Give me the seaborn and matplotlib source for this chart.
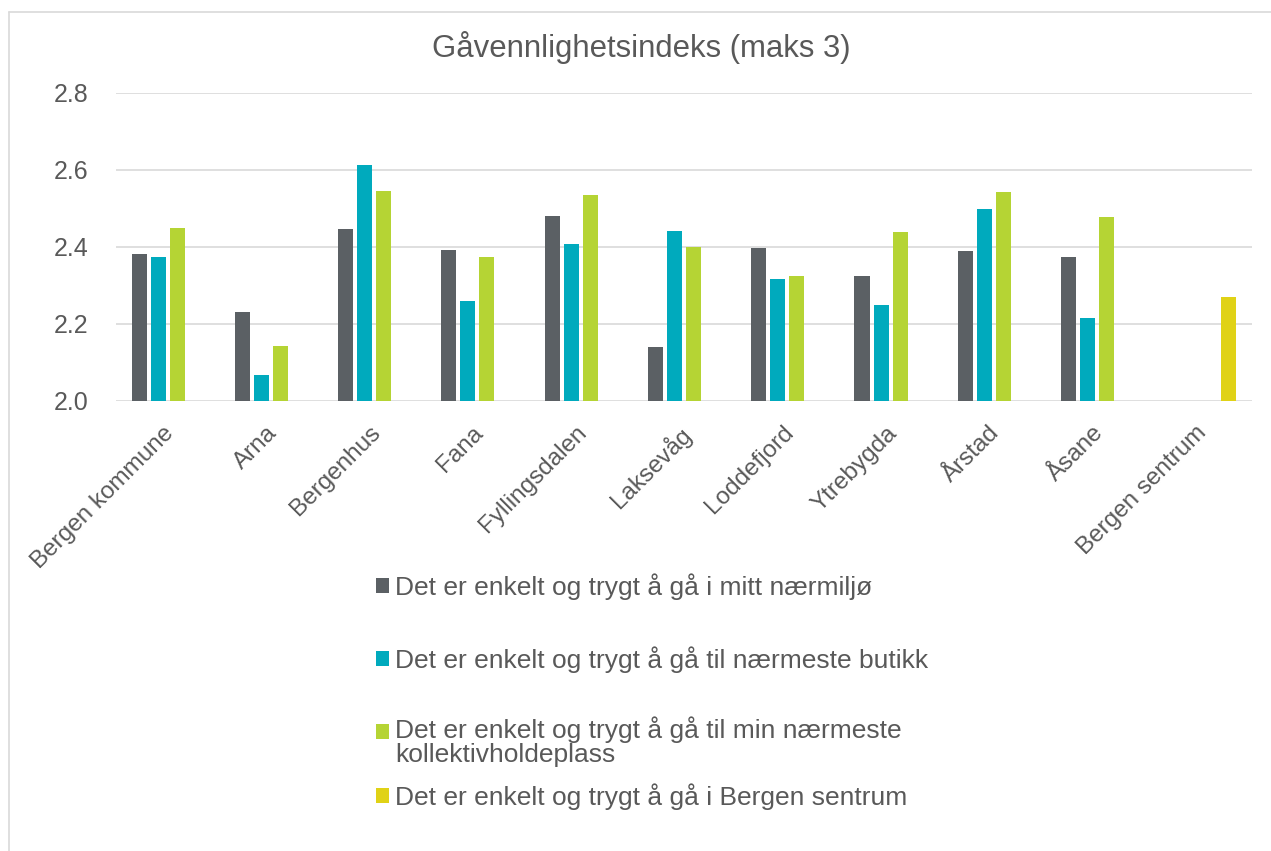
import numpy as np
import pandas as pd
import matplotlib
matplotlib.use("Agg")
import matplotlib.pyplot as plt
import matplotlib.transforms as mtransforms
import seaborn as sns
from matplotlib.lines import Line2D
from matplotlib.legend_handler import HandlerPatch

# ---------------- data ----------------
categories = ["Bergen kommune", "Arna", "Bergenhus", "Fana", "Fyllingsdalen",
              "Laksevåg", "Loddefjord", "Ytrebygda", "Årstad", "Åsane", "Bergen sentrum"]
series_names = [
    "Det er enkelt og trygt å gå i mitt nærmiljø",
    "Det er enkelt og trygt å gå til nærmeste butikk",
    "Det er enkelt og trygt å gå til min nærmeste\nkollektivholdeplass",
    "Det er enkelt og trygt å gå i Bergen sentrum",
]
naermiljo = [2.381, 2.232, 2.446, 2.391, 2.481, 2.140, 2.396, 2.325, 2.390, 2.374, None]
butikk = [2.374, 2.068, 2.613, 2.259, 2.407, 2.442, 2.317, 2.250, 2.499, 2.216, None]
kollektiv = [2.448, 2.144, 2.544, 2.373, 2.534, 2.400, 2.324, 2.439, 2.542, 2.478, None]
sentrum = [None, None, None, None, None, None, None, None, None, None, 2.269]
y_ticks = [2.0, 2.2, 2.4, 2.6, 2.8]
title = "Gåvennlighetsindeks (maks 3)"

colors = ["#5B6064", "#00AABD", "#B5D434", "#E0D216"]

rows = []
for name, vals in zip(series_names, [naermiljo, butikk, kollektiv, sentrum]):
    for c, v in zip(categories, vals):
        if v is not None:
            rows.append({"Område": c, "Serie": name, "Verdi": v})
df = pd.DataFrame(rows)

# ---------------- figure ----------------
W, H = 1271, 851
sns.set_theme(style="white")
plt.rcParams["font.family"] = ["Liberation Sans", "DejaVu Sans"]
text_color = "#595959"
grid_color = "#D9D9D9"

fig = plt.figure(figsize=(W / 100, H / 100), dpi=100)
ax = fig.add_axes([116 / W, 1 - 401 / H, (1252 - 116) / W, (401 - 92.7) / H])

sns.barplot(data=df, x="Område", y="Verdi", hue="Serie", order=categories,
            hue_order=series_names, palette=dict(zip(series_names, colors)),
            errorbar=None, width=0.737, gap=0.21, dodge=True, ax=ax,
            linewidth=0, saturation=1)

ax.set_ylim(2.0, 2.8)
ax.set_yticks(y_ticks)
ax.set_yticklabels([f"{t:.1f}" for t in y_ticks])
ax.set_xlim(-0.5, len(categories) - 0.5)
ax.set_xlabel("")
ax.set_ylabel("")
for s in ax.spines.values():
    s.set_visible(False)
ax.yaxis.grid(True, color=grid_color, linewidth=1.2)
ax.set_axisbelow(True)
ax.tick_params(axis="y", length=0, pad=20, labelsize=18, labelcolor=text_color)
ax.tick_params(axis="x", length=0, pad=15, labelsize=17.5, labelcolor=text_color)
shift = mtransforms.ScaledTranslation(-5 / 100, 0, fig.dpi_scale_trans)
for lab in ax.get_xticklabels():
    lab.set_rotation(45)
    lab.set_ha("right")
    lab.set_va("top")
    lab.set_rotation_mode("anchor")
    lab.set_transform(lab.get_transform() + shift)

fig.text(641 / W, 1 - 57.3 / H, title, ha="center", va="baseline",
         fontsize=22.4, color=text_color)

# ---------------- legend ----------------
handles, labels = ax.get_legend_handles_labels()
ax.get_legend().remove()


class ShiftedHandler(HandlerPatch):
    def __init__(self, dy=0, **kw):
        super().__init__(**kw)
        self.dy = dy

    def create_artists(self, legend, orig_handle, xdescent, ydescent, width,
                       height, fontsize, trans):
        arts = super().create_artists(legend, orig_handle, xdescent, ydescent,
                                      width, height, fontsize, trans)
        for a in arts:
            a.set_y(a.get_y() + self.dy)
        return arts


legend_y = [587, 660, 742, 797]
shifts = [0, 0, 8.0, 0]
for h, l, yy, dy in zip(handles, labels, legend_y, shifts):
    leg = fig.legend([h], [l], loc="center left",
                     bbox_to_anchor=(376 / W, 1 - yy / H), frameon=False,
                     borderpad=0, borderaxespad=0, handlelength=0.5,
                     handleheight=0.5, handletextpad=0.22, fontsize=19,
                     labelcolor=text_color,
                     handler_map={type(h): ShiftedHandler(dy=dy)})
    for t in leg.get_texts():
        t.set_linespacing(1.0)

# ---------------- chart border ----------------
fig.add_artist(Line2D([9 / W, 9 / W], [0, 1 - 11.7 / H], transform=fig.transFigure,
                      color=grid_color, linewidth=1.2))
fig.add_artist(Line2D([9 / W, 1], [1 - 11.7 / H, 1 - 11.7 / H], transform=fig.transFigure,
                      color=grid_color, linewidth=1.2))

fig.savefig("out.png", dpi=100, facecolor="white")
